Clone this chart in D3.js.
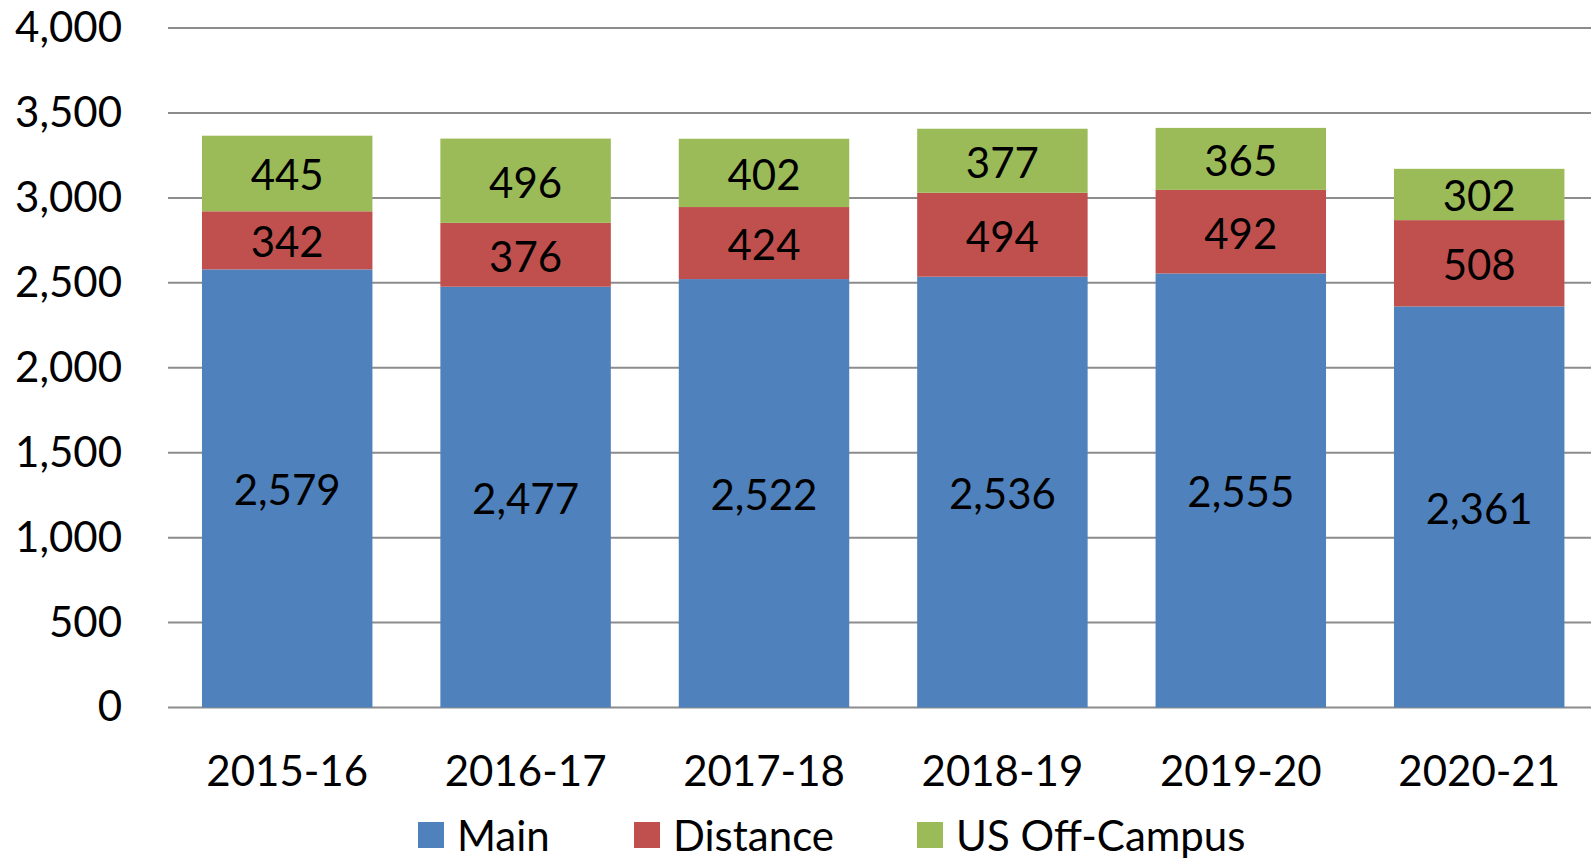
<!DOCTYPE html>
<html>
<head>
<meta charset="utf-8">
<script src="https://cdn.jsdelivr.net/npm/d3@7"></script>
<style>
  body { margin: 0; background: #fff; }
  text { font-family: Lato, "Open Sans", sans-serif; fill: #000; }
</style>
</head>
<body>
<div id="chart"></div>
<script>
// chart values
var years = ["2015-16", "2016-17", "2017-18", "2018-19", "2019-20", "2020-21"];
var mainVals = [2579, 2477, 2522, 2536, 2555, 2361];
var distanceVals = [342, 376, 424, 494, 492, 508];
var offCampusVals = [445, 496, 402, 377, 365, 302];
var seriesNames = ["Main", "Distance", "US Off-Campus"];
var yTicks = [0, 500, 1000, 1500, 2000, 2500, 3000, 3500, 4000];

var colors = ["#4F81BD", "#C0504D", "#9BBB59"];

var svgWidth = 1591;
var svgHeight = 864;
var fontSize = 42;

var svg = d3.select("#chart").append("svg").attr("width", svgWidth).attr("height", svgHeight);

var rows = years.map(function(y, i) {
  return { year: y, "Main": mainVals[i], "Distance": distanceVals[i], "US Off-Campus": offCampusVals[i] };
});
var stacked = d3.stack().keys(seriesNames)(rows);

var xScale = d3.scaleBand().domain(years).range([168, 168 + 6 * 238.4]).paddingInner(0.285).paddingOuter(0.1425);
var yScale = d3.scaleLinear().domain([0, 4000]).range([707.5, 28]);

// gridlines
svg.append("g").selectAll("line").data(yTicks).enter()
  .append("line")
  .attr("x1", 168).attr("x2", svgWidth)
  .attr("y1", d => yScale(d)).attr("y2", d => yScale(d))
  .attr("stroke", "#8c8c8c")
  .attr("stroke-width", 2);

// y axis labels
var leftAxis = d3.axisLeft(yScale).tickValues(yTicks).tickFormat(d3.format(",")).tickSize(0).tickPadding(0);
var yAxisG = svg.append("g").attr("transform", "translate(122,0)").call(leftAxis);
yAxisG.select(".domain").remove();
yAxisG.selectAll("text").attr("font-size", fontSize).attr("font-family", "Lato, sans-serif").attr("fill", "#000");

// bars
var layers = svg.append("g").selectAll("g").data(stacked).enter()
  .append("g")
  .attr("fill", (d, i) => colors[i]);

layers.selectAll("rect").data(d => d).enter()
  .append("rect")
  .attr("x", d => xScale(d.data.year))
  .attr("width", xScale.bandwidth())
  .attr("y", d => yScale(d[1]))
  .attr("height", d => yScale(d[0]) - yScale(d[1]));

// data labels
layers.selectAll("text").data(d => d).enter()
  .append("text")
  .attr("x", d => xScale(d.data.year) + xScale.bandwidth() / 2)
  .attr("y", d => yScale((d[0] + d[1]) / 2) + 1)
  .attr("text-anchor", "middle")
  .attr("dominant-baseline", "central")
  .attr("font-size", fontSize)
  .text(d => d3.format(",")(d[1] - d[0]));

// x axis labels
var bottomAxis = d3.axisBottom(xScale).tickSize(0).tickPadding(0);
var xAxisG = svg.append("g").attr("transform", "translate(0,756)").call(bottomAxis);
xAxisG.select(".domain").remove();
xAxisG.selectAll("text").attr("font-size", fontSize).attr("font-family", "Lato, sans-serif").attr("fill", "#000");

// legend
var legendX = [418, 634, 917];
var legend = svg.append("g").selectAll("g").data(seriesNames).enter()
  .append("g")
  .attr("transform", (d, i) => `translate(${legendX[i]}, 835)`);

legend.append("rect")
  .attr("x", 0).attr("y", -13)
  .attr("width", 26).attr("height", 26)
  .attr("fill", (d, i) => colors[i]);

legend.append("text")
  .attr("x", 39)
  .attr("dominant-baseline", "central")
  .attr("font-size", fontSize)
  .text(d => d);
</script>
</body>
</html>
